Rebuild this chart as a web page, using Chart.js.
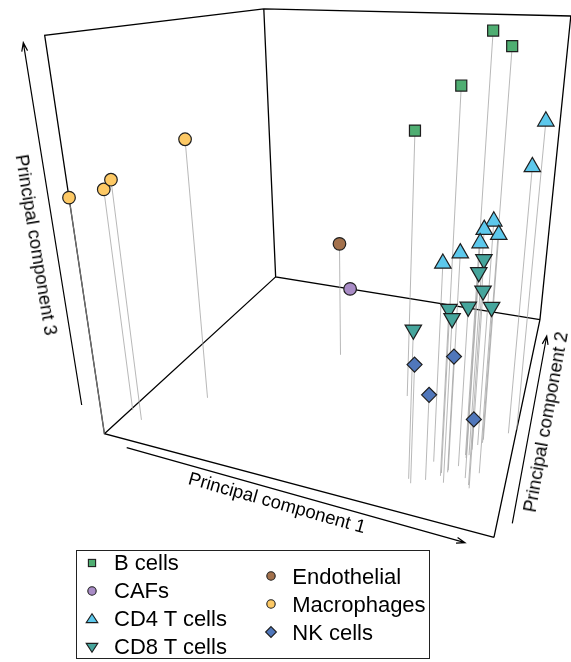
<!DOCTYPE html>
<html><head><meta charset="utf-8">
<script src="https://cdn.jsdelivr.net/npm/chart.js@4.4.0/dist/chart.umd.min.js"></script>
<style>
html,body{margin:0;padding:0;background:#fff;}
#wrap{position:relative;width:571px;height:662px;overflow:hidden;font-family:"Liberation Sans",Arial,Helvetica,sans-serif;color:#000;}
#c{position:absolute;left:0;top:0;}
.axl{position:absolute;font-size:18.5px;line-height:18.5px;white-space:nowrap;}
#legend{position:absolute;left:76px;top:550px;width:354px;height:109px;border:1px solid #222;box-sizing:border-box;}
.li{position:absolute;font-size:22px;line-height:22px;white-space:nowrap;}
.lm{position:absolute;}
</style></head>
<body><div id="wrap"><canvas id="c" width="571" height="662"></canvas><div id="legend"></div></div>
<script>
// ---------------- data ----------------
const CATEGORIES = ['B cells','CAFs','CD4 T cells','CD8 T cells','Endothelial','Macrophages','NK cells'];
const PC1_RANGE = [-30, 30];
const PC2_RANGE = [-20, 20];
const PC3_RANGE = [-20, 20];
const cellType = [
 'Macrophages','Macrophages','Macrophages','Macrophages',
 'Endothelial','CAFs',
 'B cells','B cells','B cells','B cells',
 'CD4 T cells','CD4 T cells','CD4 T cells','CD4 T cells','CD4 T cells','CD4 T cells','CD4 T cells','CD4 T cells',
 'CD8 T cells','CD8 T cells','CD8 T cells','CD8 T cells','CD8 T cells','CD8 T cells','CD8 T cells','CD8 T cells',
 'NK cells','NK cells','NK cells','NK cells'
];
const pc1 = [-30.0,-29.6,-26.7,-19.9, -3.7,-11.5, 11.5,21.1,23.6,25.5,
 30.0,28.9,24.9,24.1,25.5,23.8,21.9,19.5, 25.2,24.5,24.3,23.1,26.2,21.1,21.8,17.0, 17.5,21.9,19.3,25.4];
const pc2 = [-20.0,-15.7,-16.8,-11.0, 2.4,20.0, -3.1,-13.9,-10.6,-8.2,
 -4.9,-5.8,-8.7,-10.5,-7.7,-11.0,-13.3,-12.6, -14.6,-13.8,-9.6,-12.4,-12.7,-14.3,-15.1,-15.7, -16.2,-13.6,-15.3,-15.0];
const pc3 = [5.7,5.2,6.7,9.6, -5.1,-20.0, 10.4,16.8,20.7,19.3,
 12.6,8.6,4.1,3.9,2.5,2.8,2.6,1.1, 2.9,1.3,-2.4,-2.8,-2.3,-2.3,-2.7,-4.1, -7.2,-7.3,-10.6,-12.4];

// ---------------- view (perspective camera calibrated on the unit box) ----------------
const VIEW_ANCHORS = [[0,0,0,104.5,433],[1,0,0,494,538],[1,1,0,540,319],[0,1,0,275.5,277.5],[0,0,1,44.5,35.5],[0,1,1,264,8.5],[1,1,1,570.7,16.3]];
function dlt(corr){
  const n=11, M=[...Array(n)].map(()=>Array(n+1).fill(0));
  const rows=[];
  for(const [X,Y,Z,x,y] of corr){
    rows.push([[X,Y,Z,1,0,0,0,0,-x*X,-x*Y,-x*Z],x]);
    rows.push([[0,0,0,0,X,Y,Z,1,-y*X,-y*Y,-y*Z],y]);
  }
  for(const [a,b] of rows){for(let i=0;i<n;i++){for(let j=0;j<n;j++)M[i][j]+=a[i]*a[j];M[i][n]+=a[i]*b;}}
  for(let i=0;i<n;i++){let p=i;for(let k=i+1;k<n;k++)if(Math.abs(M[k][i])>Math.abs(M[p][i]))p=k;[M[i],M[p]]=[M[p],M[i]];
    for(let k=0;k<n;k++){if(k===i)continue;const f=M[k][i]/M[i][i];for(let j=i;j<=n;j++)M[k][j]-=f*M[i][j];}}
  return M.map((r,i)=>r[n]/r[i]);
}
const P = dlt(VIEW_ANCHORS);
function proj(u,v,w){const d=P[8]*u+P[9]*v+P[10]*w+1;return [(P[0]*u+P[1]*v+P[2]*w+P[3])/d,(P[4]*u+P[5]*v+P[6]*w+P[7])/d];}

const STYLE = {
 'B cells':{bg:'#4fae72',ps:'rect',r:7.8,rot:0},
 'CAFs':{bg:'#a98cc6',ps:'circle',r:6.3,rot:0},
 'CD4 T cells':{bg:'#5cc8ec',ps:'triangle',r:9.5,rot:0},
 'CD8 T cells':{bg:'#46a59c',ps:'triangle',r:9.5,rot:180},
 'Endothelial':{bg:'#a3714c',ps:'circle',r:6.3,rot:0},
 'Macrophages':{bg:'#fdc965',ps:'circle',r:6.3,rot:0},
 'NK cells':{bg:'#5077bb',ps:'rectRot',r:7.5,rot:0}
};
const norm=(v,R)=>(v-R[0])/(R[1]-R[0]);
function P3(a,b,c){const p=proj(norm(a,PC1_RANGE),norm(b,PC2_RANGE),norm(c,PC3_RANGE));return {x:p[0],y:p[1]};}
function C3(u,v,w){const p=proj(u,v,w);return {x:p[0],y:p[1]};}
const GAP={x:null,y:null};
const boxData=[C3(1,0,0),C3(0,0,0),C3(0,0,1),C3(0,1,1),C3(1,1,1),C3(1,1,0),C3(1,0,0),GAP,C3(1,1,0),C3(0,1,0),C3(0,1,1),GAP,C3(0,1,0),C3(0,0,0)];
const dropData=[];
pc1.forEach((v,i)=>{dropData.push(P3(pc1[i],pc2[i],pc3[i]),P3(pc1[i],pc2[i],PC3_RANGE[0]),GAP);});
const datasets=[
 {data:boxData,showLine:true,pointRadius:0,borderColor:'#000',borderWidth:1.3,spanGaps:false,order:100},
 {data:dropData,showLine:true,pointRadius:0,borderColor:'rgba(160,160,160,0.75)',borderWidth:1,spanGaps:false,order:90}
];
CATEGORIES.forEach((cat,k)=>{const st=STYLE[cat];const d=[];cellType.forEach((t,i)=>{if(t===cat)d.push(P3(pc1[i],pc2[i],pc3[i]));});
 datasets.push({label:cat,data:d,showLine:false,pointStyle:st.ps,pointRadius:st.r,pointRotation:st.rot,pointBackgroundColor:st.bg,pointBorderColor:'#1e1e1e',pointBorderWidth:1.2,order:20-k});});

const ARROWS=[[126.7,447.7,465,542.7],[81.7,405,23.3,42.7],[512.3,523.3,546.7,336]];
const decor={id:'decor',afterDatasetsDraw(chart){const c=chart.ctx,sx=chart.scales.x,sy=chart.scales.y;c.save();c.strokeStyle='#000';c.lineWidth=1.2;
 for(const [a,b,e,f] of ARROWS){const x1=sx.getPixelForValue(a),y1=sy.getPixelForValue(b),x2=sx.getPixelForValue(e),y2=sy.getPixelForValue(f);
  c.beginPath();c.moveTo(x1,y1);c.lineTo(x2,y2);const ang=Math.atan2(y2-y1,x2-x1),L=9,s=0.33;
  c.moveTo(x2-L*Math.cos(ang-s),y2-L*Math.sin(ang-s));c.lineTo(x2,y2);c.lineTo(x2-L*Math.cos(ang+s),y2-L*Math.sin(ang+s));c.stroke();}
 c.restore();}};

new Chart(document.getElementById('c'),{type:'scatter',data:{datasets},
 options:{responsive:false,animation:false,events:[],layout:{padding:0,autoPadding:false},
  scales:{x:{type:'linear',min:0,max:571,display:false},y:{type:'linear',min:0,max:662,reverse:true,display:false}},
  plugins:{legend:{display:false},tooltip:{enabled:false}}},plugins:[decor]});

const TITLES=[['Principal component 1',276.5,503.3,15.7],['Principal component 3',35.5,245,80.7],['Principal component 2',545.5,422,-79.8]];
const wrap=document.getElementById('wrap');
TITLES.forEach(([t,x,y,r])=>{const d=document.createElement('div');d.className='axl';d.textContent=t;d.style.left=x+'px';d.style.top=y+'px';d.style.transform='translate(-50%,-50%) rotate('+r+'deg)';wrap.appendChild(d);});

const LEG_POS={'B cells':[92.3,562.7,114,563.3],'CAFs':[92.3,590.7,114,591.2],'CD4 T cells':[92.3,618.7,114,619.2],'CD8 T cells':[92.3,646.7,114,647],
 'Endothelial':[271,576,292.3,576.8],'Macrophages':[271,604,292.3,604.7],'NK cells':[271,631.7,292.3,632.5]};
function markerSVG(cat){const st=STYLE[cat];let sh='';const s='stroke="#1e1e1e" stroke-width="1.1" fill="'+st.bg+'"';
 if(cat==='B cells')sh='<rect x="4.4" y="4.4" width="7.2" height="7.2" '+s+'/>';
 else if(st.ps==='circle')sh='<circle cx="8" cy="8" r="4.2" '+s+'/>';
 else if(st.rot===180)sh='<polygon points="2.2,4.4 13.8,4.4 8,13.2" '+s+'/>';
 else if(st.ps==='triangle')sh='<polygon points="2.2,11.6 13.8,11.6 8,2.8" '+s+'/>';
 else sh='<polygon points="8,2.6 13.4,8 8,13.4 2.6,8" '+s+'/>';
 return '<svg width="16" height="16" viewBox="0 0 16 16">'+sh+'</svg>';}
CATEGORIES.forEach(cat=>{const [mx,my,tx,ty]=LEG_POS[cat];const m=document.createElement('div');m.className='lm';m.style.left=(mx-8)+'px';m.style.top=(my-8)+'px';m.innerHTML=markerSVG(cat);wrap.appendChild(m);
 const t=document.createElement('div');t.className='li';t.textContent=cat;t.style.left=tx+'px';t.style.top=(ty-11)+'px';wrap.appendChild(t);});
</script></body></html>
